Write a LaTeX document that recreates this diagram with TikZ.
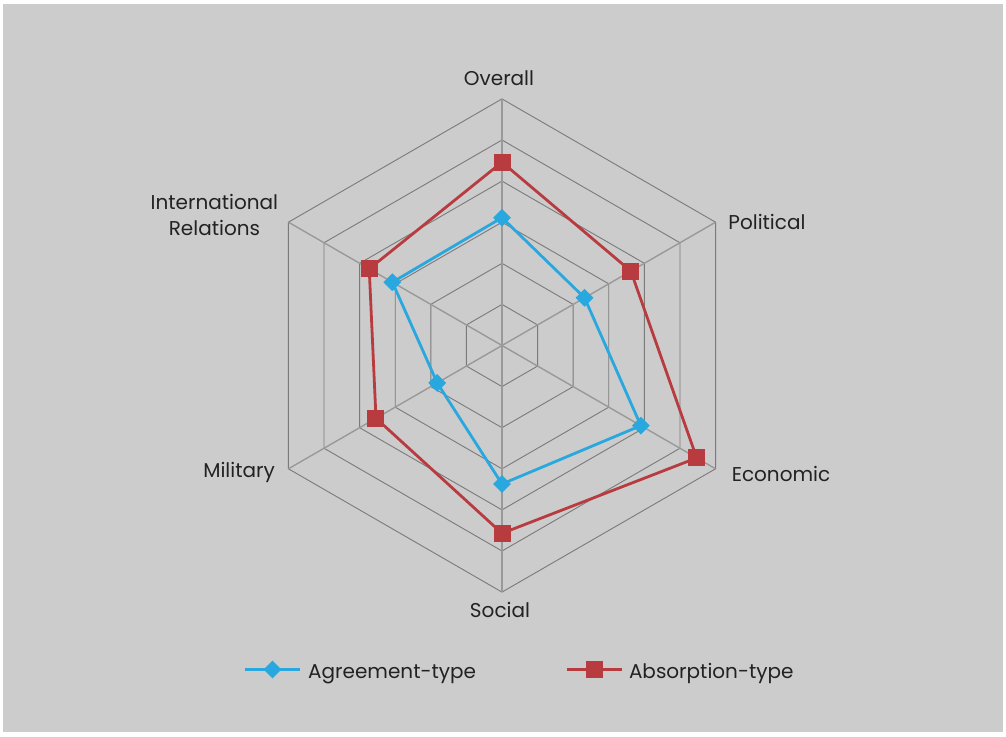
\documentclass[tikz,border=0pt]{standalone}
\usepackage{fontspec}
\setmainfont{Poppins}
\usetikzlibrary{shapes.geometric}

\definecolor{chartbg}{HTML}{CCCCCC}
\definecolor{ringgray}{HTML}{7A7A7A}
\definecolor{spokegray}{HTML}{999999}
\definecolor{agreeblue}{HTML}{29A7DF}
\definecolor{absorbred}{HTML}{B83C3F}
\definecolor{labelgray}{HTML}{222222}

\begin{document}
\begin{tikzpicture}[x = 1pt, y = 1pt,
    ring/.style = {draw = ringgray, line width = 0.9pt},
    spoke/.style = {draw = spokegray, line width = 1.4pt},
    agree/.style = {draw = agreeblue, line width = 2.8pt, line join = round},
    absorb/.style = {draw = absorbred, line width = 2.8pt, line join = round},
    agreemark/.style = {shape = diamond, fill = agreeblue, inner sep = 0pt, minimum size = 18pt},
    absorbmark/.style = {shape = rectangle, fill = absorbred, inner sep = 0pt, minimum size = 17pt},
    axislabel/.style = {font = \fontsize{20}{26}\selectfont, text = labelgray, inner sep = 0pt, align = center}]

    % page and panel
    \fill[white] (-502,345.5) rectangle (504,-390.5);
    \useasboundingbox (-502,345.5) rectangle (504,-390.5);
    \fill[chartbg] (-499,341.5) rectangle (501,-386.5);

    % grid
    \foreach \k in {1,...,6}
        \draw[ring] (90:{\k*41.1}) -- (30:{\k*41.1}) -- (-30:{\k*41.1}) -- (-90:{\k*41.1})
            -- (210:{\k*41.1}) -- (150:{\k*41.1}) -- cycle;
    \foreach \a [count = \i] in {90,30,-30,-90,210,150}
        \draw[spoke] (0,0) -- (\a:246.6) coordinate (ax\i);

    % axis labels
    \node[axislabel, anchor = base] (overall) at ([shift = {(-3,13)}]ax1) {Overall};
    \node[axislabel, anchor = base west] (political) at ([shift = {(12.7,-7.1)}]ax2) {Political};
    \node[axislabel, anchor = base west] (economic) at ([shift = {(16,-12.9)}]ax3) {Economic};
    \node[axislabel, anchor = base] (social) at ([shift = {(-2,-25.4)}]ax4) {Social};
    \node[axislabel, anchor = base east] (military) at ([shift = {(-13.4,-8.5)}]ax5) {Military};
    \node[axislabel, anchor = east] (intl) at ([shift = {(-10.1,6.8)}]ax6) {International\\Relations};

    % agreement-type
    \foreach \a/\v [count = \i] in {90/3.11,30/2.32,-30/3.9,-90/3.37,210/1.82,150/3.08}
        \coordinate (ag\i) at (\a:{\v*41.1});
    \draw[agree] (ag1) -- (ag2) -- (ag3) -- (ag4) -- (ag5) -- (ag6) -- cycle;
    \foreach \i in {1,...,6}
        \node[agreemark] (agm\i) at (ag\i) {};

    % absorption-type
    \foreach \a/\v [count = \i] in {90/4.46,30/3.62,-30/5.47,-90/4.57,210/3.54,150/3.73}
        \coordinate (ab\i) at (\a:{\v*41.1});
    \draw[absorb] (ab1) -- (ab2) -- (ab3) -- (ab4) -- (ab5) -- (ab6) -- cycle;
    \foreach \i in {1,...,6}
        \node[absorbmark] (abm\i) at (ab\i) {};

    % legend
    \coordinate (agl) at (-257,-324);
    \coordinate (agr) at (-202,-324);
    \draw[agree] (agl) -- (agr);
    \node[agreemark] (agkey) at (-229.5,-324) {};
    \node[axislabel, anchor = base west] (agtext) at (-194,-332.5) {Agreement-type};

    \coordinate (abl) at (64.7,-324);
    \coordinate (abr) at (120,-324);
    \draw[absorb] (abl) -- (abr);
    \node[absorbmark] (abkey) at (92.3,-324) {};
    \node[axislabel, anchor = base west] (abtext) at (126.8,-332.5) {Absorption-type};
\end{tikzpicture}
\end{document}
